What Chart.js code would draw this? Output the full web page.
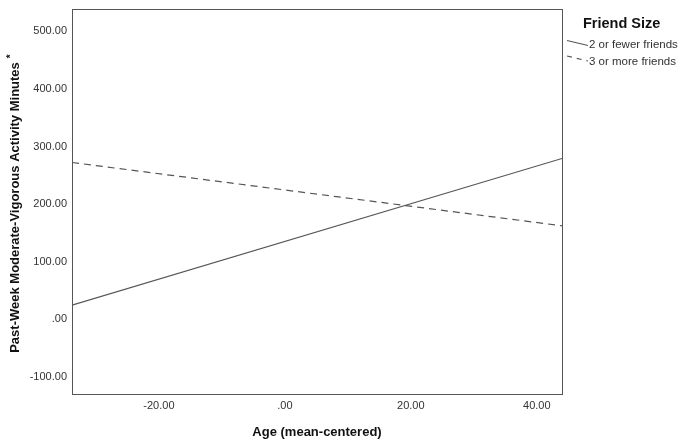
<!DOCTYPE html>
<html>
<head>
<meta charset="utf-8">
<script src="https://cdn.jsdelivr.net/npm/chart.js@4"></script>
<style>
  html, body { margin: 0; padding: 0; background: #fff; }
  canvas { display: block; }
</style>
</head>
<body>
<canvas id="c" width="687" height="448" style="width:687px;height:448px"></canvas>
<script>
// ---- data ----
const ageValues = [-33.8, 44.0];            // x range of the fitted lines (mean-centered age)
const fewerFriends = [24.3, 279.3];         // 2 or fewer friends
const moreFriends = [272.3, 162.3];         // 3 or more friends
const seriesNames = ['2 or fewer friends', '3 or more friends'];
const legendTitle = 'Friend Size';
const xTicks = [-20, 0, 20, 40];
const yTicks = [-100, 0, 100, 200, 300, 400, 500];
const xRange = [-33.8, 44.0];
const yRange = [-130, 539];
const xTitle = 'Age (mean-centered)';
const yTitle = 'Past-Week Moderate-Vigorous Activity Minutes';

const LINE = '#555555';
const FONT = '"Liberation Sans", Arial, sans-serif';

function fmt(v) {
  if (v === 0) return '.00';
  return v.toFixed(2);
}

const decorations = {
  id: 'decorations',
  afterDraw(chart) {
    const ctx = chart.ctx;
    const a = chart.chartArea;
    ctx.save();
    // frame
    ctx.strokeStyle = LINE;
    ctx.lineWidth = 1;
    ctx.strokeRect(Math.round(a.left) + 0.5, Math.round(a.top) + 0.5,
                   Math.round(a.right - a.left), Math.round(a.bottom - a.top));
    // x title
    ctx.fillStyle = '#111';
    ctx.font = 'bold 13px ' + FONT;
    ctx.textAlign = 'center';
    ctx.textBaseline = 'alphabetic';
    ctx.fillText(xTitle, (a.left + a.right) / 2, 436);
    // y title (rotated) with superscript asterisk
    ctx.save();
    ctx.translate(19, (a.top + a.bottom) / 2 + 2);
    ctx.rotate(-Math.PI / 2);
    ctx.font = 'bold 13px ' + FONT;
    const w = ctx.measureText(yTitle).width;
    ctx.textAlign = 'left';
    ctx.fillText(yTitle, -w / 2 - 4, 0);
    ctx.font = 'bold 10px ' + FONT;
    ctx.fillText('*', w / 2, -5);
    ctx.restore();
    // legend
    ctx.font = 'bold 14.5px ' + FONT;
    ctx.textAlign = 'left';
    ctx.fillText(legendTitle, 583, 28.3);
    ctx.font = '11.5px ' + FONT;
    ctx.fillStyle = '#333';
    ctx.fillText(seriesNames[0], 589, 48.3);
    ctx.fillText(seriesNames[1], 589, 64.5);
    ctx.strokeStyle = LINE;
    ctx.lineWidth = 1.2;
    ctx.beginPath();
    ctx.moveTo(567, 40.5);
    ctx.lineTo(588, 45.5);
    ctx.stroke();
    ctx.setLineDash([5, 5]);
    ctx.beginPath();
    ctx.moveTo(567, 56);
    ctx.lineTo(588, 61);
    ctx.stroke();
    ctx.restore();
  }
};

new Chart(document.getElementById('c'), {
  type: 'line',
  data: {
    datasets: [
      {
        label: seriesNames[0],
        data: ageValues.map((x, i) => ({ x: x, y: fewerFriends[i] })),
        borderColor: LINE,
        borderWidth: 1.2,
        pointRadius: 0,
        fill: false,
        tension: 0
      },
      {
        label: seriesNames[1],
        data: ageValues.map((x, i) => ({ x: x, y: moreFriends[i] })),
        borderColor: LINE,
        borderWidth: 1.2,
        borderDash: [7, 5],
        pointRadius: 0,
        fill: false,
        tension: 0
      }
    ]
  },
  options: {
    responsive: false,
    devicePixelRatio: 1,
    animation: false,
    layout: { padding: { left: 0, top: 9, right: 125, bottom: 0 } },
    plugins: { legend: { display: false }, tooltip: { enabled: false } },
    scales: {
      x: {
        type: 'linear',
        min: xRange[0], max: xRange[1],
        grid: { display: false, drawTicks: false },
        border: { display: false },
        afterFit(s) { s.height = 54; s.paddingLeft = 0; s.paddingRight = 0; },
        afterBuildTicks(s) { s.ticks = xTicks.map(v => ({ value: v })); },
        ticks: {
          padding: 5,
          maxRotation: 0,
          autoSkip: false,
          color: '#333',
          font: { family: FONT, size: 11 },
          callback: v => fmt(v)
        }
      },
      y: {
        type: 'linear',
        min: yRange[0], max: yRange[1],
        grid: { display: false, drawTicks: false },
        border: { display: false },
        afterFit(s) { s.width = 72; s.paddingTop = 0; s.paddingBottom = 0; },
        afterBuildTicks(s) { s.ticks = yTicks.map(v => ({ value: v })); },
        ticks: {
          padding: 5,
          autoSkip: false,
          color: '#333',
          font: { family: FONT, size: 11 },
          callback: v => fmt(v)
        }
      }
    }
  },
  plugins: [decorations]
});
</script>
</body>
</html>
